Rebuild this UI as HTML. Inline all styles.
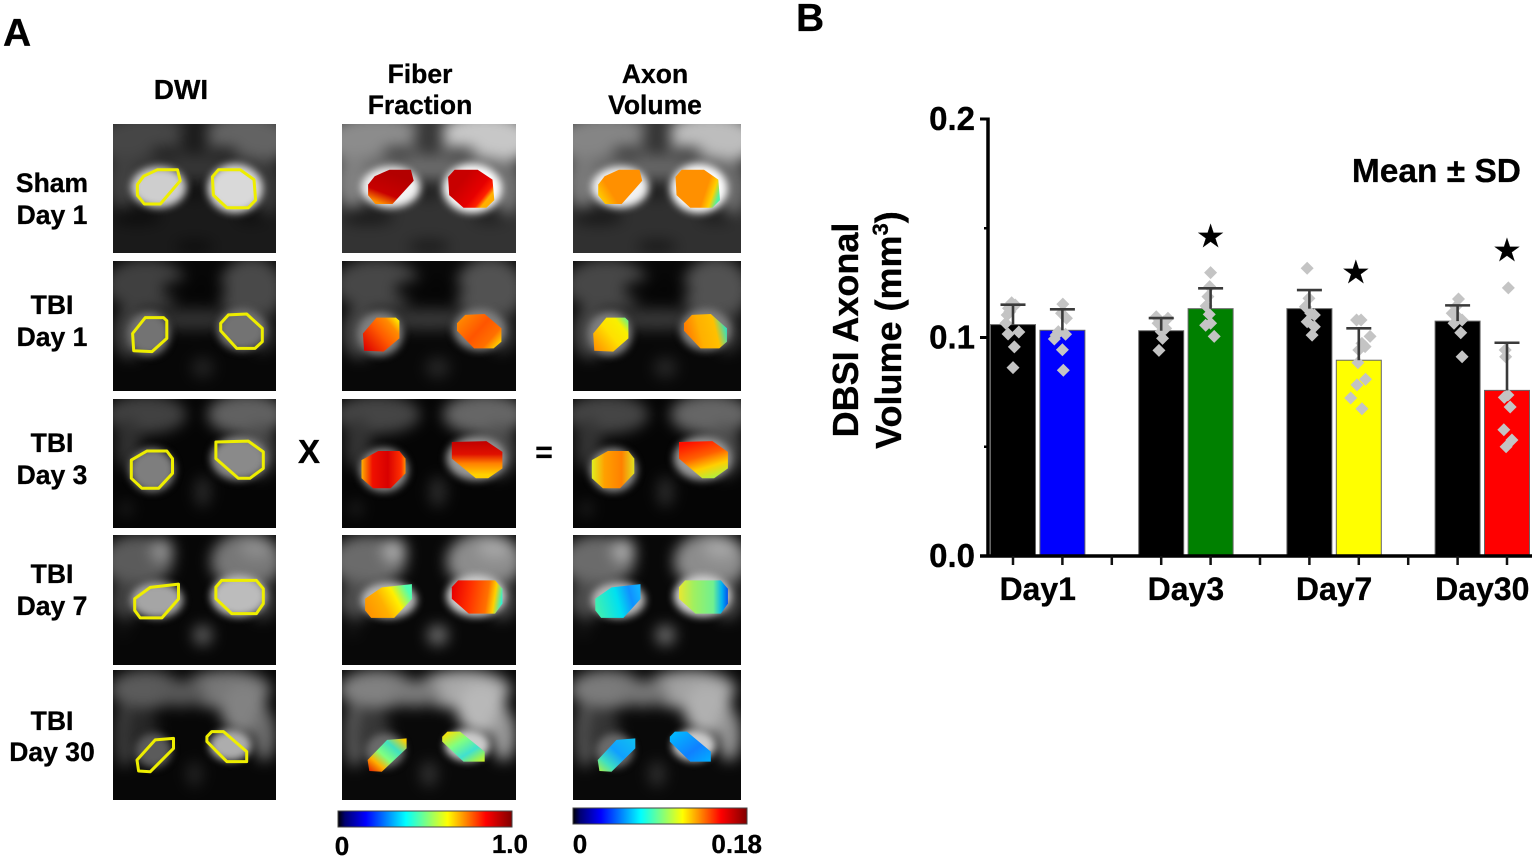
<!DOCTYPE html>
<html lang="en">
<head>
<meta charset="utf-8">
<title>DBSI axonal volume figure</title>
<style>
html,body{margin:0;padding:0;background:#fff;width:1535px;height:859px;overflow:hidden}
svg{display:block}
text{font-family:"Liberation Sans",Arial,sans-serif;font-weight:bold;fill:#000;stroke:#000;stroke-width:.3px}
</style>
</head>
<body>
<svg id="fig" xmlns="http://www.w3.org/2000/svg" width="1535" height="859" viewBox="0 0 1535 859">
  <defs>
    <filter id="soft" x="-15%" y="-15%" width="130%" height="130%" color-interpolation-filters="sRGB"><feGaussianBlur stdDeviation="7"/></filter>
    <filter id="glow" x="-40%" y="-40%" width="180%" height="180%" color-interpolation-filters="sRGB"><feGaussianBlur stdDeviation="4"/></filter>
    <linearGradient id="jet" x1="0" y1="0" x2="1" y2="0">
      <stop offset="0" stop-color="#000"/>
      <stop offset=".04" stop-color="#000070"/>
      <stop offset=".16" stop-color="#0000ff"/>
      <stop offset=".39" stop-color="#00ffff"/>
      <stop offset=".63" stop-color="#ffff00"/>
      <stop offset=".85" stop-color="#ff0000"/>
      <stop offset="1" stop-color="#800000"/>
    </linearGradient>
  </defs>

  <text x="3" y="46" font-size="39">A</text>
  <text x="796" y="31" font-size="39">B</text>

  <text x="181" y="99" font-size="28" text-anchor="middle">DWI</text>
  <text x="420" y="83" font-size="26.5" text-anchor="middle">Fiber</text>
  <text x="420" y="114" font-size="26.5" text-anchor="middle">Fraction</text>
  <text x="655" y="83" font-size="26.5" text-anchor="middle">Axon</text>
  <text x="655" y="114" font-size="26.5" text-anchor="middle">Volume</text>

  <text x="52" y="192" font-size="26.5" text-anchor="middle">Sham</text>
  <text x="52" y="224" font-size="26.5" text-anchor="middle">Day 1</text>
  <text x="52" y="314" font-size="26.5" text-anchor="middle">TBI</text>
  <text x="52" y="346" font-size="26.5" text-anchor="middle">Day 1</text>
  <text x="52" y="452" font-size="26.5" text-anchor="middle">TBI</text>
  <text x="52" y="484" font-size="26.5" text-anchor="middle">Day 3</text>
  <text x="52" y="583" font-size="26.5" text-anchor="middle">TBI</text>
  <text x="52" y="615" font-size="26.5" text-anchor="middle">Day 7</text>
  <text x="52" y="730" font-size="26.5" text-anchor="middle">TBI</text>
  <text x="52" y="761" font-size="26.5" text-anchor="middle">Day 30</text>

  <text x="309" y="463" font-size="33" text-anchor="middle">X</text>
  <text x="544" y="462" font-size="30" text-anchor="middle">=</text>

  <g id="panels"></g>

  <rect x="338" y="811" width="174" height="16" fill="url(#jet)" stroke="#444" stroke-width="1"/>
  <text x="342" y="855" font-size="26" text-anchor="middle">0</text>
  <text x="528" y="853" font-size="26" text-anchor="end">1.0</text>
  <rect x="573" y="808" width="174" height="16" fill="url(#jet)" stroke="#444" stroke-width="1"/>
  <text x="580" y="853" font-size="26" text-anchor="middle">0</text>
  <text x="762" y="853" font-size="26" text-anchor="end">0.18</text>

  <g id="chart"></g>

  <text transform="translate(858 330) rotate(-90)" font-size="36" text-anchor="middle">DBSI Axonal</text>
  <text transform="translate(901 330) rotate(-90)" font-size="36" text-anchor="middle">Volume (mm<tspan font-size="22" dy="-13">3</tspan><tspan dy="13">)</tspan></text>
  <text x="1521" y="182" font-size="33.5" text-anchor="end">Mean ± SD</text>
</svg>

<script>
/* ---------- chart data ---------- */
const categories = ['Day1', 'Day3', 'Day7', 'Day30'];
const controlMeans = [0.1059, 0.1031, 0.1132, 0.1075];
const treatedMeans = [0.1033, 0.1132, 0.0896, 0.0758];
const controlUpper = [0.1150, 0.1089, 0.1217, 0.1147];
const treatedUpper = [0.1129, 0.1225, 0.1042, 0.0976];
const starLevels = [null, 0.1465, 0.1300, 0.1400];
const yTickValues = [0, 0.1, 0.2];
const yTickLabels = ['0.0', '0.1', '0.2'];
const yMinorValues = [0.05, 0.15];

const controlPoints = [
  [0.0862, 0.0957, 0.1016, 0.1025, 0.1065, 0.1103, 0.1134, 0.1159, 0.1149, 0.1118],
  [0.0941, 0.0996, 0.1042, 0.1027, 0.1088, 0.1095, 0.1065, 0.1072],
  [0.1011, 0.1072, 0.1103, 0.1049, 0.1141, 0.1317, 0.1179, 0.1111],
  [0.0912, 0.1022, 0.1065, 0.1080, 0.1176, 0.1111, 0.1095, 0.1141]
];
const treatedPoints = [
  [0.0850, 0.0944, 0.0993, 0.1011, 0.1015, 0.1088, 0.1153, 0.1111, 0.1027],
  [0.1005, 0.1056, 0.1065, 0.1106, 0.1144, 0.1233, 0.1297, 0.1187],
  [0.0674, 0.0723, 0.0783, 0.0809, 0.0885, 0.0943, 0.0958, 0.1005, 0.1080, 0.1080, 0.0973],
  [0.0500, 0.0531, 0.0578, 0.0682, 0.0726, 0.0737, 0.1227, 0.0912, 0.0943]
];
const controlJitter = [
  [0, .03, -.11, .13, -.16, -.13, -.1, -.03, .05, -.07],
  [-.05, .03, .1, 0, .15, -.11, -.07, .06],
  [.06, -.05, .11, .11, -.09, -.05, -.01, .03],
  [.1, .07, -.08, .1, .02, -.12, 0, -.04]
];
const treatedJitter = [
  [.02, 0, -.18, -.14, .07, .09, .01, -.02, -.09],
  [.08, -.11, 0, -.03, -.1, -.02, 0, -.06],
  [.07, -.18, -.04, .15, -.02, 0, .14, .25, -.05, .05, .07],
  [-.02, .11, -.07, .07, -.06, .02, .03, -.03, -.04]
];
const treatedColors = ['#0000ff', '#008000', '#ffff00', '#ff0000'];

/* ---------- MRI panel descriptions (unit coordinates inside each panel) ---------- */
const panelCols = [
  {key: 'dwi', x: 113, w: 163},
  {key: 'fiber', x: 342, w: 174},
  {key: 'axon', x: 573, w: 168}
];
const panelRows = [
  {key: 'sham-day1', y: 124, h: 129},
  {key: 'tbi-day1', y: 261, h: 130},
  {key: 'tbi-day3', y: 399, h: 129},
  {key: 'tbi-day7', y: 535, h: 130},
  {key: 'tbi-day30', y: 670, h: 130}
];
const brightness = [[.5, 1, .95], [.9, 1, 1], [.95, 1, 1], [.85, 1, 1], [.85, 1.2, 1.15]];
const baseGray = [.2, .03, .02, .03, .03];
const haloGain = [.85, .9, .9, .9, .85];
const backgrounds = [
  [[.2,.13,.3,.2,.55],[.82,.12,.28,.2,.78],[.5,.33,.48,.1,.42],[.06,.45,.1,.2,.5],[.95,.5,.08,.2,.45],[.5,.12,.09,.13,.22],[.33,.22,.1,.04,.2],[.67,.22,.1,.04,.2],[.5,.52,.05,.07,.1],[.15,.72,.15,.06,.1],[.85,.72,.1,.05,.12],[.5,.95,.12,.05,.1]],
  [[.2,.18,.25,.2,.28],[.85,.22,.2,.25,.32],[.5,.45,.3,.08,.22],[.1,.55,.1,.2,.28],[.92,.55,.08,.15,.22],[.55,.82,.07,.08,.15],[.5,.22,.2,.08,.02]],
  [[.2,.12,.25,.15,.27],[.82,.12,.24,.16,.4],[.9,.4,.1,.2,.3],[.09,.35,.08,.2,.2],[.55,.72,.05,.12,.17],[.08,.85,.04,.06,.12]],
  [[.15,.2,.22,.2,.42],[.3,.12,.07,.1,.65],[.82,.2,.22,.22,.55],[.88,.1,.1,.08,.65],[.08,.5,.1,.15,.3],[.92,.5,.08,.15,.3],[.55,.77,.06,.08,.42],[.06,.73,.03,.04,.12]],
  [[.2,.15,.22,.15,.42],[.7,.15,.27,.15,.55],[.8,.3,.14,.2,.6],[.93,.5,.07,.2,.5],[.07,.5,.06,.25,.3],[.42,.18,.15,.1,.4],[.18,.5,.1,.2,.18],[.5,.8,.05,.1,.16]]
];
const halos = [
  [[.28,.49,.17,.16,.95],[.75,.5,.17,.19,1]],
  [[.22,.56,.13,.17,.5],[.79,.53,.15,.16,.5]],
  [[.24,.55,.14,.17,.55],[.77,.46,.17,.17,.6]],
  [[.27,.5,.16,.14,.72],[.77,.47,.17,.16,.82]],
  [[.25,.62,.11,.13,.42],[.72,.58,.13,.12,.8]]
];
const outlines = [
  [[[.15,.47],[.188,.405],[.273,.354],[.396,.354],[.412,.44],[.29,.62],[.192,.62],[.15,.553]],
   [[.61,.41],[.647,.354],[.78,.354],[.865,.431],[.875,.59],[.83,.649],[.698,.649],[.616,.551]]],
  [[[.12,.558],[.198,.435],[.31,.435],[.33,.459],[.33,.595],[.239,.697],[.127,.69]],
   [[.661,.479],[.708,.415],[.82,.408],[.916,.518],[.916,.621],[.871,.672],[.759,.672],[.661,.536]]],
  [[[.112,.474],[.208,.403],[.33,.403],[.365,.462],[.365,.577],[.28,.692],[.178,.692],[.112,.615]],
   [[.631,.333],[.83,.326],[.922,.41],[.922,.538],[.84,.615],[.769,.615],[.631,.462]]],
  [[[.133,.49],[.229,.403],[.402,.378],[.402,.492],[.3,.638],[.167,.638],[.133,.58]],
   [[.631,.401],[.667,.349],[.88,.349],[.922,.413],[.922,.528],[.88,.605],[.729,.605],[.631,.49]]],
  [[[.147,.692],[.259,.538],[.371,.526],[.371,.603],[.229,.782],[.157,.777]],
   [[.576,.513],[.606,.474],[.678,.474],[.82,.628],[.82,.705],[.698,.705],[.576,.551]]]
];
/* gradient per ROI: [x1,y1,x2,y2,[offset,colour]...] */
const fiberFills = [
  [[.7,.2,.3,1,[0,'#b30000'],[.65,'#c80000'],[1,'#ff9000']], [.3,.3,.9,.7,[0,'#c80000'],[.6,'#e60000'],[.85,'#ff2000'],[1,'#ffb000']]],
  [[0,.9,1,.1,[0,'#dd0000'],[.5,'#ff5a00'],[.8,'#ff8c00'],[1,'#ffee00']], [0,.1,1,.8,[0,'#ff9000'],[.5,'#ff5500'],[.8,'#ff7000'],[1,'#ffd000']]],
  [[0,.5,1,.5,[0,'#ffb000'],[.25,'#f01000'],[.6,'#d80000'],[.9,'#ff3000'],[1,'#ff9000']], [.5,0,.5,1,[0,'#c00000'],[.35,'#e01000'],[.6,'#ff8000'],[.9,'#ffd000']]],
  [[0,.8,1,.4,[0,'#ff9000'],[.4,'#ffb000'],[.7,'#fff000'],[1,'#50ffb0']], [0,.4,1,.5,[0,'#e80000'],[.35,'#ff3000'],[.7,'#ff7000'],[.85,'#ffd000'],[1,'#30f0d0']]],
  [[0,1,1,0,[0,'#e01000'],[.25,'#ffb000'],[.45,'#80ff80'],[.7,'#40e0c0'],[.95,'#ffd000']], [.1,0,1,1,[0,'#ffe000'],[.35,'#80ff80'],[.65,'#40e0d0'],[.85,'#90f060'],[1,'#d0f020']]]
];
const axonFills = [
  [[1,.3,0,.8,[0,'#ff9000'],[.7,'#ff9000'],[1,'#ffd000']], [.3,.4,1,.6,[0,'#ff9000'],[.55,'#ff9000'],[.8,'#ffd000'],[1,'#50f0a0']]],
  [[0,.9,1,.1,[0,'#ff9000'],[.5,'#ffe000'],[.8,'#f8f000'],[1,'#70f080']], [0,.7,1,.5,[0,'#ff7000'],[.4,'#ffb000'],[.75,'#ffc000'],[1,'#30e0c0']]],
  [[0,.5,1,.5,[0,'#e0f020'],[.3,'#ffa000'],[.7,'#ff8000'],[1,'#e0e020']], [.3,0,.7,1,[0,'#ff1000'],[.4,'#ff6000'],[.7,'#ffd000'],[1,'#b0f040']]],
  [[0,.6,1,.4,[0,'#40f0b0'],[.5,'#00e0f0'],[.8,'#1090ff'],[1,'#10b0ff']], [0,.5,1,.5,[0,'#e8e830'],[.3,'#a0f060'],[.7,'#70f090'],[.88,'#00b0f0'],[1,'#0050f0']]],
  [[0,1,1,0,[0,'#b0f040'],[.25,'#40e0c0'],[.55,'#10a0ff'],[1,'#10c0f0']], [0,0,1,1,[0,'#00c0ff'],[.6,'#1080ff'],[1,'#00b0ff']]]
];

const NS = 'http://www.w3.org/2000/svg';
function mk(tag, attrs, parent) {
  const el = document.createElementNS(NS, tag);
  for (const k in attrs) el.setAttribute(k, attrs[k]);
  parent.appendChild(el);
  return el;
}
function gray(v) {
  const g = Math.max(0, Math.min(255, Math.round(v * 255)));
  return 'rgb(' + g + ',' + g + ',' + g + ')';
}

/* ---------- build panels ---------- */
const panelLayer = document.getElementById('panels');
const defs = document.querySelector('defs');
panelRows.forEach((row, r) => {
  panelCols.forEach((col, c) => {
    const id = col.key + '-' + row.key;
    const clip = mk('clipPath', {id: 'clip-' + id}, defs);
    mk('rect', {x: col.x, y: row.y, width: col.w, height: row.h}, clip);

    const g = mk('g', {'clip-path': 'url(#clip-' + id + ')'}, panelLayer);
    
    
    mk('rect', {x: col.x, y: row.y, width: col.w, height: row.h, fill: gray(baseGray[r] * brightness[r][c])}, g);

    const soft = mk('g', {filter: 'url(#soft)'}, g);
    /* full-bleed base keeps the blur from fading at the panel edge */
    mk('rect', {x: col.x - 20, y: row.y - 20, width: col.w + 40, height: row.h + 40, fill: gray(baseGray[r] * brightness[r][c])}, soft);
    backgrounds[r].forEach(b => {
      mk('ellipse', {cx: col.x + b[0] * col.w, cy: row.y + b[1] * row.h, rx: b[2] * col.w, ry: b[3] * row.h, fill: gray(b[4] * brightness[r][c])}, soft);
    });
    const glow = mk('g', {filter: 'url(#glow)'}, g);
    halos[r].forEach(b => {
      mk('ellipse', {cx: col.x + b[0] * col.w, cy: row.y + b[1] * row.h, rx: b[2] * col.w, ry: b[3] * row.h, fill: gray(b[4] * (c === 0 ? haloGain[r] : 1))}, glow);
    });

    outlines[r].forEach((poly, side) => {
      const pts = poly.map(p => (col.x + p[0] * col.w).toFixed(1) + ',' + (row.y + p[1] * row.h).toFixed(1)).join(' ');
      const sideName = side === 0 ? 'left' : 'right';
      if (c === 0) {
        const roi = mk('polygon', {points: pts, fill: 'none', stroke: '#eeee00', 'stroke-width': 3, 'stroke-linejoin': 'round'}, g);
        
        
      } else {
        const spec = (c === 1 ? fiberFills : axonFills)[r][side];
        const gradId = 'grad-' + id + '-' + side;
        const lg = mk('linearGradient', {id: gradId, x1: spec[0], y1: spec[1], x2: spec[2], y2: spec[3]}, defs);
        spec.slice(4).forEach(s => mk('stop', {offset: s[0], 'stop-color': s[1]}, lg));
        const roi = mk('polygon', {points: pts, fill: 'url(#' + gradId + ')'}, g);
        
        
      }
    });
  });
});

/* ---------- build chart ---------- */
const chart = document.getElementById('chart');
const Y0 = 556, PX_PER_UNIT = 2185, X0 = 1013, SLOT = 49.4, BAR_W = 45;
function yScale(v) { return Y0 - v * PX_PER_UNIT; }
function xScale(slot) { return X0 + slot * SLOT; }

function drawBar(slot, mean, fill, name) {
  const bar = mk('rect', {x: xScale(slot) - BAR_W / 2, y: yScale(mean), width: BAR_W, height: Y0 - yScale(mean), fill: fill, stroke: '#666', 'stroke-width': 1}, chart);
  
  
}
function drawPoints(slot, values, jitter, name) {
  values.forEach((v, i) => {
    const cx = xScale(slot) + jitter[i] * BAR_W, cy = yScale(v), s = 6.5;
    const pt = mk('polygon', {points: [cx, cy - s, cx + s, cy, cx, cy + s, cx - s, cy].join(' '), fill: '#c4c4c4'}, chart);
    
    
  });
}
function drawError(slot, mean, upper, name) {
  const x = xScale(slot);
  const eg = mk('g', {stroke: '#3a3a3a', 'stroke-width': 2.6}, chart);
  
  
  mk('line', {x1: x, x2: x, y1: yScale(mean), y2: yScale(upper)}, eg);
  mk('line', {x1: x - 12.5, x2: x + 12.5, y1: yScale(upper), y2: yScale(upper)}, eg);
}

categories.forEach((cat, i) => {
  const slotA = i * 3, slotB = i * 3 + 1;
  drawBar(slotA, controlMeans[i], '#000', 'bar-control-' + cat.toLowerCase());
  drawBar(slotB, treatedMeans[i], treatedColors[i], 'bar-tbi-' + cat.toLowerCase());
  drawPoints(slotA, controlPoints[i], controlJitter[i], 'point-control-' + cat.toLowerCase());
  drawPoints(slotB, treatedPoints[i], treatedJitter[i], 'point-tbi-' + cat.toLowerCase());
  drawError(slotA, controlMeans[i], controlUpper[i], 'error-bar-control-' + cat.toLowerCase());
  drawError(slotB, treatedMeans[i], treatedUpper[i], 'error-bar-tbi-' + cat.toLowerCase());

  const label = mk('text', {x: (xScale(slotA) + xScale(slotB)) / 2, y: 600, 'font-size': 32, 'text-anchor': 'middle'}, chart);
  label.textContent = cat;
  
  

  if (starLevels[i] !== null) {
    const star = mk('text', {x: xScale(slotB) - (i === 2 ? 3 : 0), y: yScale(starLevels[i]) + 11, 'font-size': 32, 'text-anchor': 'middle', style: 'font-family:"DejaVu Sans",sans-serif'}, chart);
    star.textContent = '★';
    
    
  }
});

const yAxis = mk('line', {x1: 988, x2: 988, y1: yScale(0.2) - 1.5, y2: Y0 + 1.5, stroke: '#000', 'stroke-width': 3.5}, chart);


const xAxis = mk('line', {x1: 980, x2: 1532, y1: Y0, y2: Y0, stroke: '#000', 'stroke-width': 3.5}, chart);



yTickValues.forEach((v, i) => {
  const t = mk('line', {x1: 980, x2: 988, y1: yScale(v), y2: yScale(v), stroke: '#000', 'stroke-width': 3}, chart);
  
  
  const l = mk('text', {x: 975, y: yScale(v) + 11, 'font-size': 33, 'text-anchor': 'end'}, chart);
  l.textContent = yTickLabels[i];
  
  
});
yMinorValues.forEach(v => {
  const t = mk('line', {x1: 984, x2: 988, y1: yScale(v), y2: yScale(v), stroke: '#000', 'stroke-width': 2.5}, chart);
  
  
});
for (let s = 0; s <= 10; s++) {
  const t = mk('line', {x1: xScale(s), x2: xScale(s), y1: Y0, y2: Y0 + 9, stroke: '#111', 'stroke-width': 2.5}, chart);
  
  
}
</script>
</body>
</html>
